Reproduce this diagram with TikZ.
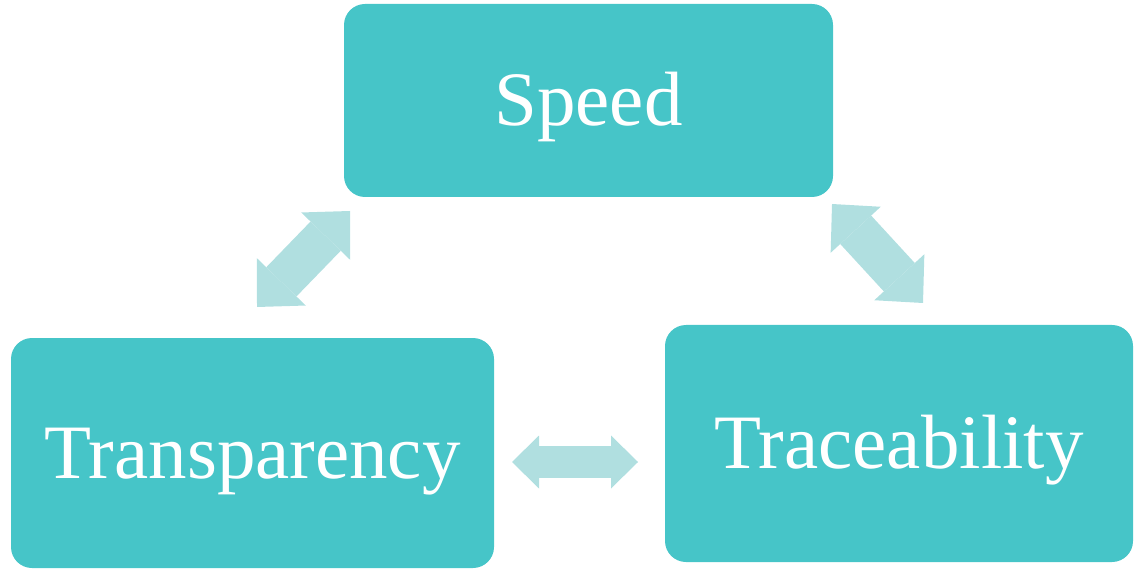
\documentclass[tikz,border=0pt]{standalone}
\usepackage{fontspec}
\setmainfont{Liberation Serif}
\usetikzlibrary{arrows.meta}
\definecolor{boxteal}{HTML}{46C5C8}
\definecolor{linkteal}{HTML}{B0DFE0}
\tikzset{
    box/.style={fill=boxteal, rounded corners=0.42cm, text=white, inner sep=0pt,
        text height=29pt, text depth=0pt, font=\fontsize{43.8}{50}\selectfont},
    biglink/.style={draw=linkteal, line width=0.84cm,
        {Triangle[length=0.70cm,width=1.36cm,line width=0pt]}-{Triangle[length=0.70cm,width=1.36cm,line width=0pt]}},
    smalllink/.style={draw=linkteal, line width=0.64cm,
        {Triangle[length=0.54cm,width=1.06cm,line width=0pt]}-{Triangle[length=0.54cm,width=1.06cm,line width=0pt]}}
}
\begin{document}
\begin{tikzpicture}
        \useasboundingbox (0,0) rectangle (22.7,11.4);
        \node[box, minimum width=9.78cm, minimum height=3.86cm] (speed) at (11.77,9.39) {Speed};
        \node[box, minimum width=9.66cm, minimum height=4.60cm] (transp) at (5.05,2.34) {Transparency};
        \node[box, minimum width=9.36cm, minimum height=4.74cm] (trace) at (17.98,2.53) {Traceability};
        % arrow ends between the boxes
        \coordinate (tl) at (5.14,5.26);
        \coordinate (sl) at (7.00,7.18);
        \coordinate (sr) at (16.64,7.32);
        \coordinate (rr) at (18.46,5.34);
        \coordinate (lh) at (10.24,2.16);
        \coordinate (rh) at (12.76,2.16);
        \draw[biglink] (tl) -- (sl);
        \draw[biglink] (sr) -- (rr);
        \draw[smalllink] (lh) -- (rh);
\end{tikzpicture}
\end{document}
